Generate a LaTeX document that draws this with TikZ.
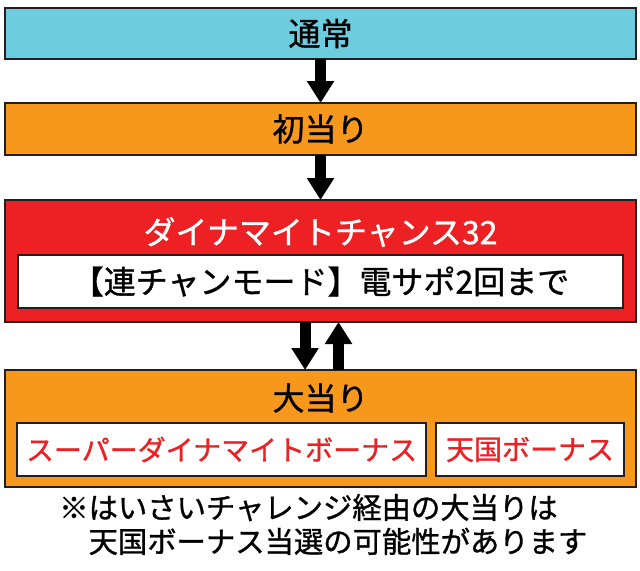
\documentclass[tikz,border=0pt]{standalone}
\usepackage{fontspec}
\newfontfamily\jp[FakeBold=1]{Noto Sans CJK JP}
\usetikzlibrary{arrows.meta,positioning}
\definecolor{tsujoblue}{RGB}{109,204,221}
\definecolor{atariorange}{RGB}{247,152,29}
\definecolor{chancered}{RGB}{237,32,36}
\definecolor{edge}{RGB}{35,31,32}

\begin{document}
\begin{tikzpicture}[font=\jp,node distance=33pt]
\tikzset{st/.style={draw=edge,line width=1.5pt,outer sep=0pt,minimum width=473.25pt,minimum height=38.25pt,inner sep=0pt,font=\jp\fontsize{24}{28}\selectfont},
  inbox/.style={draw=edge,line width=1.5pt,outer sep=0pt,fill=white,minimum height=39.75pt,inner sep=0pt},
  flow/.style={line width=8.25pt,-{Triangle[length=16.5pt,width=19.5pt]}}}
\useasboundingbox (0,0) rectangle (480pt,-428.25pt);
\node[st,fill=tsujoblue,anchor=north] (tsujo) at (240.4pt,-6pt) {通常};
\node[st,fill=atariorange,minimum height=39pt,below=33pt of tsujo] (hatsu) {初当り};
\node[st,fill=chancered,minimum height=91.5pt,below=33.75pt of hatsu] (chance) {};
\node[text=white,font=\jp\fontsize{24}{28}\selectfont] (chancetitle) at ([yshift=-24pt]chance.north) {ダイナマイトチャンス32};
\node[inbox,minimum width=453.75pt,anchor=north,font=\jp\fontsize{24}{28}\selectfont] (renchan) at ([yshift=-41.25pt]chance.north) {【連チャンモード】電サポ2回まで};
\node[st,fill=atariorange,minimum height=87.75pt,below=36pt of chance] (oatari) {};
\node[font=\jp\fontsize{24}{28}\selectfont] (oatarititle) at ([yshift=-21pt]oatari.north) {大当り};
\node[inbox,minimum width=306.75pt,anchor=north west,text=chancered,font=\jp\fontsize{21}{25}\selectfont] (superbonus) at ([xshift=9pt,yshift=-39.75pt]oatari.north west) {スーパーダイナマイトボーナス};
\node[inbox,minimum width=141pt,right=7.5pt of superbonus,text=chancered,font=\jp\fontsize{21}{25}\selectfont] (tengoku) {天国ボーナス};
\draw[flow] (tsujo) -- (hatsu);
\draw[flow] (hatsu) -- (chance);
\draw[flow] ([xshift=-11.6pt]chance.south) -- ([xshift=-11.6pt]oatari.north);
\draw[flow] ([xshift=13.5pt]oatari.north) -- ([xshift=13.5pt]chance.south);
% note below the box
\node[anchor=north west,align=left,inner sep=0pt,font=\jp\fontsize{22}{25.5}\selectfont] (note) at ([xshift=40.5pt,yshift=-5pt]oatari.south west) {※はいさいチャレンジ経由の大当りは\\　天国ボーナス当選の可能性があります};
\end{tikzpicture}
\end{document}
